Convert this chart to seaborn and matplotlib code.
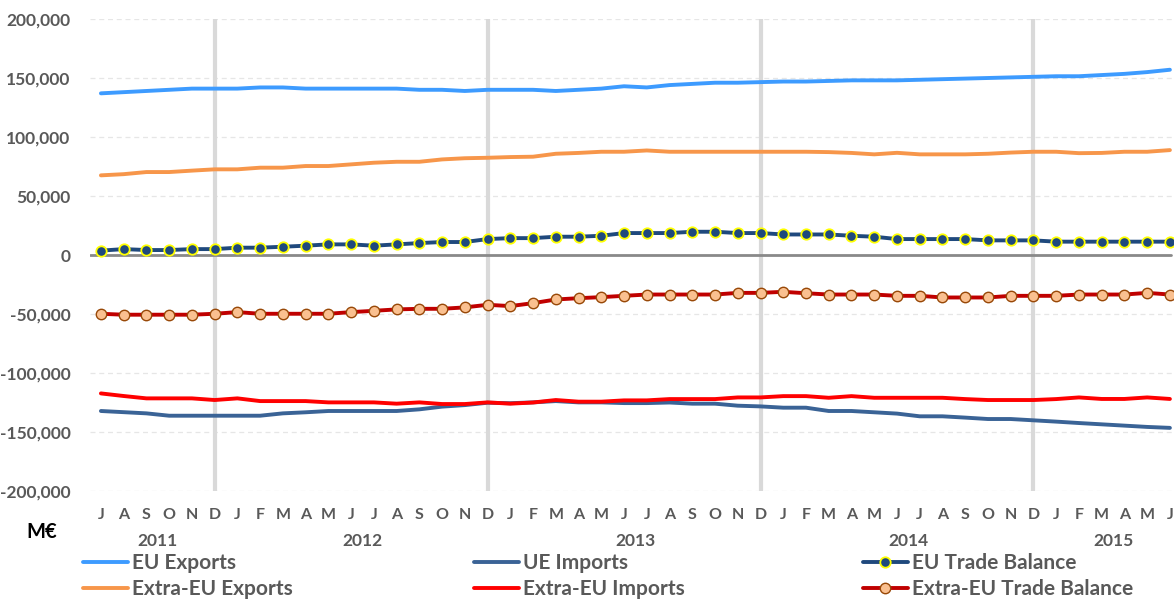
import matplotlib
matplotlib.use("Agg")
import matplotlib.pyplot as plt
import matplotlib.transforms as mtransforms
import seaborn as sns
import numpy as np

# ---- data (values in M€) ----
months = ["J", "A", "S", "O", "N", "D",
          "J", "F", "M", "A", "M", "J", "J", "A", "S", "O", "N", "D",
          "J", "F", "M", "A", "M", "J", "J", "A", "S", "O", "N", "D",
          "J", "F", "M", "A", "M", "J", "J", "A", "S", "O", "N", "D",
          "J", "F", "M", "A", "M", "J"]
years = ["2011", "2012", "2013", "2014", "2015"]
year_pos = [2.5, 11.5, 23.5, 35.5, 44.5]

eu_exports = [137000, 138000, 139000, 140000, 141000, 141000, 141000, 142000, 142000, 141000,
              141000, 141000, 141000, 141000, 140000, 140000, 139000, 140000, 140000, 140000,
              139000, 140000, 141000, 143000, 142000, 144000, 145000, 146000, 146000, 146500,
              147000, 147000, 147500, 148000, 148000, 148000, 148500, 149000, 149500, 150000,
              150500, 151000, 151500, 151500, 152500, 153500, 155000, 157000]
extra_exports = [67500, 68500, 70300, 70300, 71500, 72600, 72600, 74000, 74000, 75400,
                 75400, 76800, 78200, 79000, 79000, 81000, 82000, 82400, 83000, 83300,
                 85800, 86500, 87500, 87500, 88600, 87500, 87500, 87500, 87500, 87500,
                 87500, 87500, 87200, 86500, 85300, 86600, 85300, 85300, 85300, 85800,
                 86800, 87500, 87500, 86300, 86500, 87500, 87500, 88900]
eu_imports = [-132200, -133200, -134200, -136200, -136200, -136200, -136200, -136200, -134200, -133300,
              -132200, -132200, -132200, -132200, -130800, -128500, -127200, -125200, -125600, -124900,
              -123800, -124900, -124900, -125500, -125500, -125000, -126000, -126000, -127700, -128300,
              -129400, -129400, -132200, -132200, -133300, -134400, -136700, -136700, -137800, -139000,
              -139000, -140100, -141200, -142400, -143500, -144600, -145700, -146500]
extra_imports = [-117300, -119500, -121500, -121500, -121500, -122900, -121500, -123800, -123800, -123800,
                 -124900, -124900, -124900, -126000, -124900, -126300, -126300, -124900, -126000, -125000,
                 -122900, -124300, -124300, -123200, -123200, -122100, -122100, -122100, -120700, -120700,
                 -119600, -119600, -121000, -119600, -121000, -121000, -121000, -121000, -122100, -122900,
                 -122900, -122900, -122100, -120700, -122000, -122000, -120700, -122000]
eu_balance = [3700, 5000, 4200, 4200, 5000, 5000, 6200, 6200, 7000, 7900,
              9000, 9000, 7900, 9000, 10100, 11000, 11000, 13500, 14300, 14300,
              15500, 15500, 16300, 18600, 18600, 18600, 19700, 19700, 18600, 18600,
              17400, 17400, 17400, 16300, 15500, 13500, 13500, 13500, 13500, 12400,
              12400, 12400, 11300, 11300, 11300, 11300, 11300, 11300]
extra_balance = [-49800, -50600, -50600, -50600, -50600, -49800, -48400, -49800, -49800, -49800,
                 -49800, -48400, -47300, -46100, -45600, -45600, -44400, -42200, -43300, -40800,
                 -37700, -36600, -35700, -34600, -33500, -33500, -33500, -33500, -32100, -32100,
                 -31200, -32400, -33500, -33500, -33500, -34600, -34600, -36000, -36000, -36000,
                 -34600, -34600, -34600, -33500, -33500, -33500, -32100, -33500]
y_ticks = [-200000, -150000, -100000, -50000, 0, 50000, 100000, 150000, 200000]

# ---- style ----
sns.set_theme(style="white")
plt.rcParams["font.family"] = ["Lato", "DejaVu Sans"]
GREY = "#595959"

fig = plt.figure(figsize=(11.74, 6.01), dpi=100)
ax = fig.add_axes([90 / 1174, 1 - 491 / 601, 1 - 90 / 1174, (491 - 19) / 601])

x = np.arange(len(months))

# horizontal grid
for t in y_ticks:
    if t != 0:
        ax.axhline(t, color="#E6E6E6", lw=0.9, ls=(0, (4, 3)), zorder=0)
# vertical December separators
for i, m in enumerate(months):
    if m == "D":
        ax.axvline(i, color="#D9D9D9", lw=3.0, zorder=1)
ax.axhline(0, xmax=(47.05 + 0.48) / (47.18 + 0.48), color="#898989", lw=2.0, zorder=2)

sns.lineplot(x=x, y=eu_exports, ax=ax, color="#3D9BFF", lw=2.8, label="EU Exports", zorder=3)
sns.lineplot(x=x, y=extra_exports, ax=ax, color="#F7964A", lw=2.8, label="Extra-EU Exports", zorder=3)
sns.lineplot(x=x, y=eu_imports, ax=ax, color="#3A6396", lw=2.8, label="UE Imports", zorder=3)
sns.lineplot(x=x, y=extra_imports, ax=ax, color="#FF0000", lw=2.8, label="Extra-EU Imports", zorder=3)
sns.lineplot(x=x, y=eu_balance, ax=ax, color="#1F497D", lw=2.8, marker="o", markersize=7.5,
             markerfacecolor="#1F497D", markeredgecolor="#FFFF00", markeredgewidth=1.3,
             label="EU Trade Balance", zorder=4)
sns.lineplot(x=x, y=extra_balance, ax=ax, color="#C00000", lw=2.8, marker="o", markersize=7.5,
             markerfacecolor="#FAC090", markeredgecolor="#984807", markeredgewidth=1.0,
             label="Extra-EU Trade Balance", zorder=4)

ax.set_xlim(-0.48, 47.18)
ax.set_ylim(-200000, 200000)
ax.set_yticks(y_ticks)
ax.set_yticklabels([f"{v:,}" for v in y_ticks], fontsize=12.5, fontweight="bold", color=GREY)
ax.set_xticks(x)
ax.set_xticklabels(months, fontsize=11.5, fontweight="bold", color=GREY)
ax.tick_params(axis="both", length=0)
ax.tick_params(axis="x", pad=12)
ax.tick_params(axis="y", pad=14)
for s in ax.spines.values():
    s.set_visible(False)
ax.set_xlabel("")
ax.set_ylabel("")

trans = mtransforms.blended_transform_factory(ax.transData, fig.transFigure)
for yl, p in zip(years, year_pos):
    ax.text(p, 1 - 541 / 601, yl, transform=trans, ha="center", va="center",
            fontsize=12.5, fontweight="bold", color=GREY)
fig.text(42 / 1174, 1 - 532 / 601, "M€", ha="center", va="center",
         fontsize=14.5, fontweight="bold", color="black")

handles, labels = ax.get_legend_handles_labels()
ax.get_legend().remove()
col_x = [83, 474, 863]
for c in range(3):
    fig.legend(handles[2 * c:2 * c + 2], labels[2 * c:2 * c + 2],
               loc="upper left", bbox_to_anchor=(col_x[c] / 1174, 1 - 553 / 601),
               frameon=False, borderpad=0, borderaxespad=0, handlelength=2.15,
               handletextpad=0.2, labelspacing=0.3,
               prop={"size": 15, "weight": "bold"}, labelcolor=GREY)

fig.savefig("out.png", dpi=100)
